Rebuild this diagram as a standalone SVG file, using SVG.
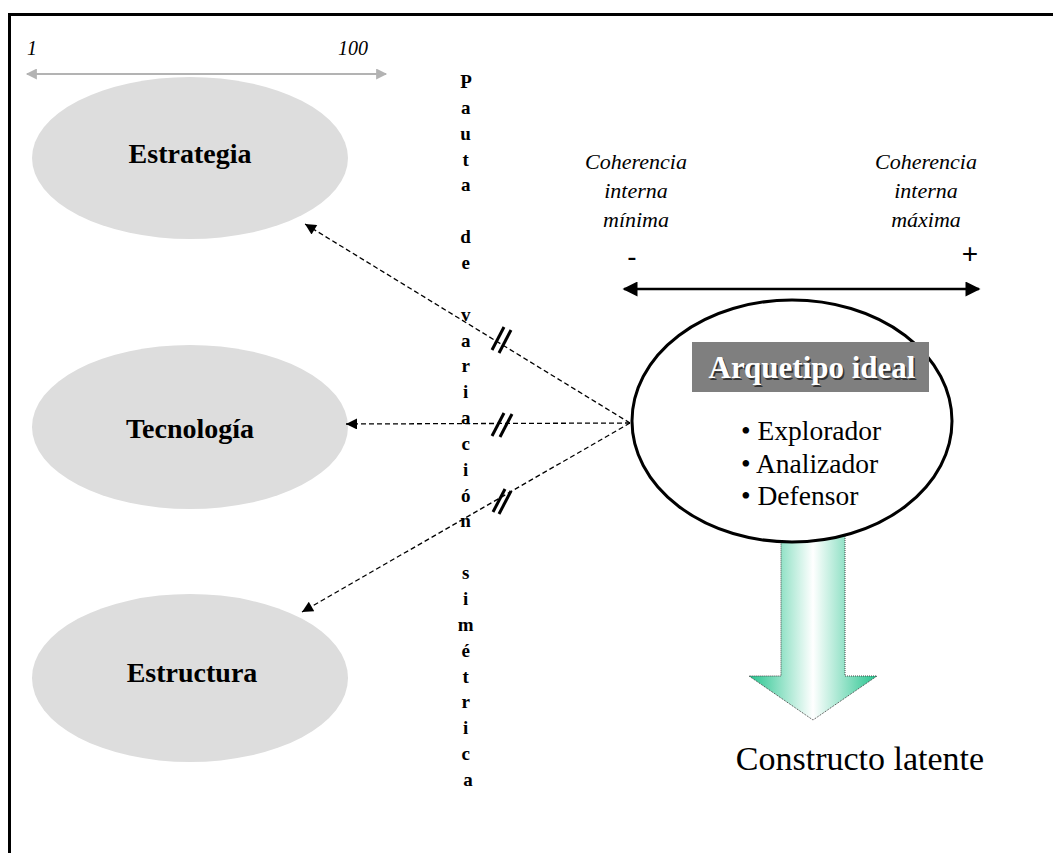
<svg xmlns="http://www.w3.org/2000/svg" width="1053" height="853" viewBox="0 0 1053 853">
  <defs>
    <marker id="headBlack" viewBox="0 0 10 10" refX="10" refY="5" markerWidth="13" markerHeight="11" markerUnits="userSpaceOnUse" orient="auto">
      <path d="M0,0 L10,5 L0,10 z" fill="#000"/>
    </marker>
    <marker id="headBig" viewBox="0 0 10 10" refX="9" refY="5" markerWidth="17" markerHeight="15" markerUnits="userSpaceOnUse" orient="auto-start-reverse">
      <path d="M0,0 L10,5 L0,10 z" fill="#000"/>
    </marker>
    <marker id="headGray" viewBox="0 0 10 10" refX="9" refY="5" markerWidth="13" markerHeight="11" markerUnits="userSpaceOnUse" orient="auto-start-reverse">
      <path d="M0,0 L10,5 L0,10 z" fill="#b3b3b3"/>
    </marker>
    <linearGradient id="greenFade" gradientUnits="userSpaceOnUse" x1="749" y1="0" x2="877" y2="0">
      <stop offset="0" stop-color="#25c48e"/>
      <stop offset="0.5" stop-color="#ffffff"/>
      <stop offset="1" stop-color="#25c48e"/>
    </linearGradient>
    <style>
      .factor { fill: #dddddd; }
      .factor-label { font-family: "Liberation Serif", "Times New Roman", serif; font-weight: bold; font-size: 28px; fill: #000; text-anchor: middle; }
      .scale-num { font-family: "Liberation Serif", "Times New Roman", serif; font-style: italic; font-size: 20px; fill: #000; }
      .coh { font-family: "Liberation Serif", "Times New Roman", serif; font-style: italic; font-size: 22px; fill: #000; text-anchor: middle; }
      .sign { font-family: "Liberation Sans", Arial, sans-serif; font-size: 28px; fill: #000; text-anchor: middle; }
      .vertical { font-family: "Liberation Serif", "Times New Roman", serif; font-weight: bold; font-size: 19px; fill: #000; text-anchor: middle; }
      .bullet { font-family: "Liberation Serif", "Times New Roman", serif; font-size: 27.5px; fill: #000; }
      .title { font-family: "Liberation Serif", "Times New Roman", serif; font-weight: bold; font-size: 31px; text-anchor: middle; }
      .link { fill: none; stroke: #000; stroke-width: 1.3; stroke-dasharray: 5 3; }
      .tick { stroke: #000; stroke-width: 3; }
    </style>
  </defs>

  <!-- frame: top and left rules -->
  <line x1="9.5" y1="14.5" x2="1053" y2="14.5" stroke="#000" stroke-width="3"/>
  <line x1="9.5" y1="13" x2="9.5" y2="853" stroke="#000" stroke-width="3"/>

  <!-- 1..100 scale -->
  <g id="scale">
    <text class="scale-num" x="27" y="55">1</text>
    <text class="scale-num" x="338" y="55">100</text>
    <line x1="27" y1="74" x2="386" y2="74" stroke="#b3b3b3" stroke-width="2" marker-start="url(#headGray)" marker-end="url(#headGray)"/>
  </g>

  <!-- factor nodes -->
  <g id="estrategia">
    <ellipse class="factor" cx="190" cy="158" rx="158" ry="81"/>
    <text class="factor-label" x="190" y="163">Estrategia</text>
  </g>
  <g id="tecnologia">
    <ellipse class="factor" cx="190" cy="427" rx="158" ry="82"/>
    <text class="factor-label" x="190" y="438">Tecnología</text>
  </g>
  <g id="estructura">
    <ellipse class="factor" cx="190" cy="678" rx="158" ry="84"/>
    <text class="factor-label" x="192" y="682">Estructura</text>
  </g>

  <!-- vertical caption -->
  <g id="pauta">
    <text class="vertical">
      <tspan x="468" y="88">P</tspan>
      <tspan x="468" dy="25.85">a</tspan>
      <tspan x="468" dy="25.85">u</tspan>
      <tspan x="468" dy="25.85">t</tspan>
      <tspan x="468" dy="25.85">a</tspan>
      <tspan x="468" dy="51.7">d</tspan>
      <tspan x="468" dy="25.85">e</tspan>
      <tspan x="468" dy="51.7">v</tspan>
      <tspan x="468" dy="25.85">a</tspan>
      <tspan x="468" dy="25.85">r</tspan>
      <tspan x="468" dy="25.85">i</tspan>
      <tspan x="468" dy="25.85">a</tspan>
      <tspan x="468" dy="25.85">c</tspan>
      <tspan x="468" dy="25.85">i</tspan>
      <tspan x="468" dy="25.85">ó</tspan>
      <tspan x="468" dy="25.85">n</tspan>
      <tspan x="468" dy="51.7">s</tspan>
      <tspan x="468" dy="25.85">i</tspan>
      <tspan x="468" dy="25.85">m</tspan>
      <tspan x="468" dy="25.85">é</tspan>
      <tspan x="468" dy="25.85">t</tspan>
      <tspan x="468" dy="25.85">r</tspan>
      <tspan x="468" dy="25.85">i</tspan>
      <tspan x="468" dy="25.85">c</tspan>
      <tspan x="468" dy="25.85">a</tspan>
    </text>
  </g>

  <!-- coherence scale -->
  <g id="coherencia">
    <text class="coh" x="636" y="169">Coherencia</text>
    <text class="coh" x="636" y="198">interna</text>
    <text class="coh" x="636" y="227">mínima</text>
    <text class="coh" x="926" y="169">Coherencia</text>
    <text class="coh" x="926" y="198">interna</text>
    <text class="coh" x="926" y="227">máxima</text>
    <text class="sign" x="632" y="266">-</text>
    <text class="sign" x="970" y="263">+</text>
    <line x1="624" y1="289" x2="979" y2="289" stroke="#000" stroke-width="2.6" marker-start="url(#headBig)" marker-end="url(#headBig)"/>
  </g>

  <!-- output arrow -->
  <g id="constructo">
    <path d="M781,530 L845,530 L845,676 L877,676 L813,720 L749,676 L781,676 Z" fill="url(#greenFade)" stroke="#444" stroke-width="1" stroke-dasharray="1 1"/>
    <text x="860" y="770" font-family="'Liberation Serif', 'Times New Roman', serif" font-size="34" text-anchor="middle" fill="#000">Constructo latente</text>
  </g>

  <!-- archetype node -->
  <g id="arquetipo">
    <ellipse cx="792" cy="421" rx="160" ry="121" fill="#fff" stroke="#000" stroke-width="3"/>
    <rect x="692" y="342" width="237" height="50" fill="#7f7f7f"/>
    <text class="title" x="813.5" y="379.5" fill="#333">Arquetipo ideal</text>
    <text class="title" x="812" y="378" fill="#fff">Arquetipo ideal</text>
    <text class="bullet" x="741" y="440">• Explorador</text>
    <text class="bullet" x="741" y="473">• Analizador</text>
    <text class="bullet" x="741" y="505">• Defensor</text>
  </g>

  <!-- connectors -->
  <g id="connectors">
    <line class="link" x1="630" y1="423" x2="305" y2="224" marker-end="url(#headBlack)"/>
    <line class="link" x1="630" y1="423" x2="346" y2="424" marker-end="url(#headBlack)"/>
    <line class="link" x1="630" y1="423" x2="302" y2="612" marker-end="url(#headBlack)"/>
    <!-- break marks -->
    <line class="tick" x1="492" y1="350" x2="504" y2="327"/>
    <line class="tick" x1="499" y1="353" x2="511" y2="330"/>
    <line class="tick" x1="492" y1="436" x2="504" y2="413"/>
    <line class="tick" x1="500" y1="437" x2="512" y2="414"/>
    <line class="tick" x1="493" y1="512" x2="505" y2="489"/>
    <line class="tick" x1="499" y1="514" x2="511" y2="491"/>
  </g>
</svg>
